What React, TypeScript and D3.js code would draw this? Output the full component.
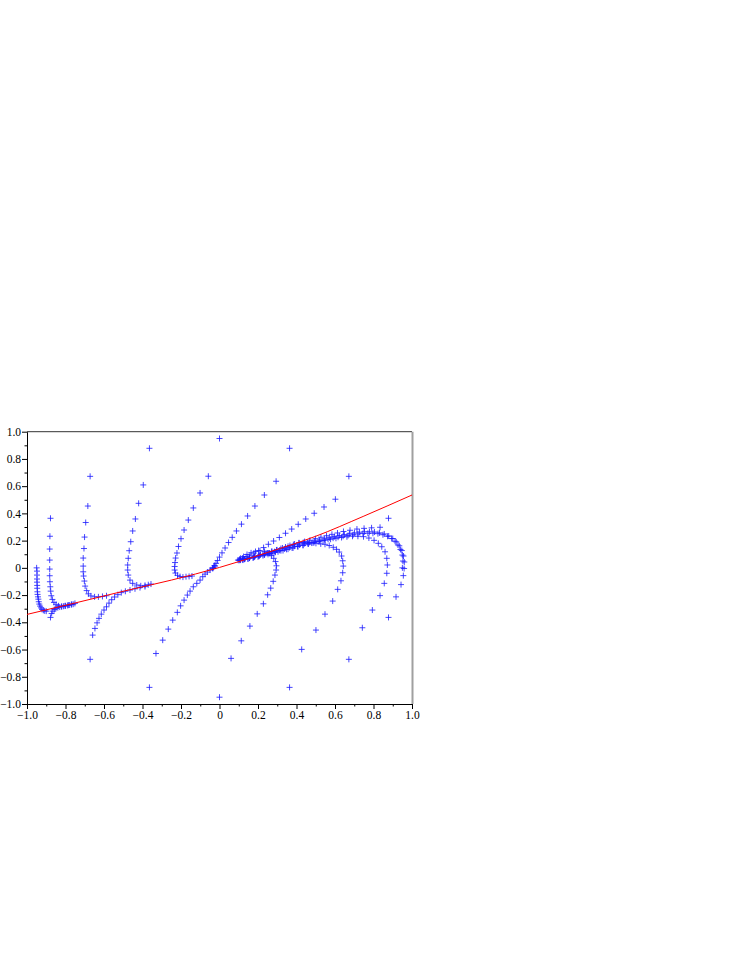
import * as React from 'react'
import * as d3 from 'd3'

type Pt = [number, number]

// one list per trajectory, named after the compass point it starts from (circle r = 0.95)
const trajN: Pt[] = [
    [0, 0.95], [-0.058, 0.673], [-0.101, 0.55], [-0.136, 0.44], [-0.162, 0.351], [-0.184, 0.278],
    [-0.2, 0.214], [-0.213, 0.157], [-0.221, 0.109], [-0.228, 0.072], [-0.231, 0.039], [-0.233, 0.01],
    [-0.233, -0.016], [-0.229, -0.038], [-0.218, -0.055], [-0.205, -0.064], [-0.19, -0.068],
    [-0.174, -0.065], [-0.158, -0.063], [-0.143, -0.06],
]
const trajNNW: Pt[] = [
    [-0.364, 0.878], [-0.396, 0.609], [-0.42, 0.474], [-0.437, 0.359], [-0.451, 0.271], [-0.461, 0.192],
    [-0.469, 0.126], [-0.474, 0.07], [-0.477, 0.021], [-0.477, -0.016], [-0.474, -0.053], [-0.465, -0.09],
    [-0.451, -0.114], [-0.43, -0.126], [-0.409, -0.132], [-0.387, -0.129], [-0.37, -0.124], [-0.356, -0.119],
]
const trajNW: Pt[] = [
    [-0.672, 0.672], [-0.684, 0.454], [-0.695, 0.333], [-0.701, 0.226], [-0.704, 0.142], [-0.708, 0.072],
    [-0.708, 0.013], [-0.708, -0.029], [-0.706, -0.06], [-0.702, -0.097], [-0.698, -0.134], [-0.69, -0.167],
    [-0.681, -0.191], [-0.668, -0.206], [-0.649, -0.213], [-0.629, -0.213], [-0.608, -0.21], [-0.587, -0.205],
]
const trajWNW: Pt[] = [
    [-0.878, 0.364], [-0.881, 0.232], [-0.882, 0.138], [-0.882, 0.057], [-0.882, -0.009], [-0.882, -0.058],
    [-0.881, -0.102], [-0.879, -0.139], [-0.877, -0.171], [-0.874, -0.205], [-0.868, -0.232], [-0.86, -0.254],
    [-0.849, -0.268], [-0.836, -0.279], [-0.82, -0.283], [-0.803, -0.279], [-0.785, -0.274], [-0.768, -0.268],
    [-0.751, -0.261],
]
const trajW: Pt[] = [
    [-0.95, 0], [-0.948, -0.024], [-0.948, -0.053], [-0.948, -0.082], [-0.948, -0.105], [-0.947, -0.129],
    [-0.947, -0.15], [-0.946, -0.176], [-0.945, -0.195], [-0.943, -0.213], [-0.941, -0.23], [-0.939, -0.249],
    [-0.936, -0.266], [-0.932, -0.281], [-0.927, -0.294], [-0.922, -0.305], [-0.915, -0.312], [-0.908, -0.316],
    [-0.9, -0.318],
]
const trajWSW: Pt[] = [
    [-0.878, -0.364], [-0.872, -0.335], [-0.866, -0.318], [-0.858, -0.306], [-0.85, -0.298], [-0.84, -0.292],
    [-0.83, -0.288], [-0.82, -0.285], [-0.81, -0.282], [-0.8, -0.279], [-0.79, -0.276], [-0.78, -0.273],
    [-0.77, -0.27], [-0.76, -0.267],
]
const trajSW: Pt[] = [
    [-0.672, -0.672], [-0.659, -0.494], [-0.647, -0.445], [-0.636, -0.404], [-0.626, -0.371], [-0.614, -0.34],
    [-0.6, -0.31], [-0.587, -0.286], [-0.574, -0.259], [-0.56, -0.234], [-0.545, -0.214], [-0.528, -0.197],
    [-0.51, -0.182], [-0.489, -0.172], [-0.465, -0.163], [-0.439, -0.154], [-0.413, -0.145], [-0.387, -0.138],
]
const trajSSW: Pt[] = [
    [-0.364, -0.878], [-0.33, -0.629], [-0.295, -0.531], [-0.266, -0.45], [-0.243, -0.384], [-0.219, -0.327],
    [-0.202, -0.279], [-0.184, -0.237], [-0.167, -0.2], [-0.153, -0.171], [-0.136, -0.139], [-0.118, -0.114],
    [-0.101, -0.09], [-0.087, -0.065], [-0.075, -0.046], [-0.063, -0.031], [-0.049, -0.016], [-0.035, -0.001],
    [-0.023, 0.013],
]
const trajS: Pt[] = [
    [0, -0.95], [0.06, -0.665], [0.113, -0.536], [0.158, -0.428], [0.196, -0.338], [0.228, -0.264],
    [0.25, -0.198], [0.266, -0.149], [0.279, -0.099], [0.288, -0.053], [0.294, -0.016], [0.296, 0.015],
    [0.291, 0.046], [0.282, 0.07], [0.27, 0.09], [0.254, 0.109], [0.234, 0.121], [0.21, 0.125],
    [0.187, 0.12], [0.164, 0.11], [0.143, 0.098], [0.125, 0.083], [0.109, 0.07], [0.096, 0.057],
]
const trajSSE: Pt[] = [
    [0.364, -0.878], [0.427, -0.599], [0.501, -0.457], [0.548, -0.34], [0.588, -0.244], [0.614, -0.158],
    [0.631, -0.095], [0.64, -0.036], [0.643, 0.013], [0.64, 0.052], [0.634, 0.087], [0.622, 0.116],
    [0.608, 0.136], [0.591, 0.151], [0.57, 0.164], [0.548, 0.173], [0.526, 0.176], [0.501, 0.18],
    [0.479, 0.182], [0.456, 0.185], [0.435, 0.186], [0.413, 0.184], [0.39, 0.175], [0.366, 0.164],
    [0.343, 0.153], [0.319, 0.142], [0.296, 0.131], [0.273, 0.12], [0.249, 0.109], [0.226, 0.099],
    [0.203, 0.09], [0.179, 0.081], [0.156, 0.072], [0.132, 0.065], [0.109, 0.057],
]
const trajSE: Pt[] = [
    [0.672, -0.672], [0.742, -0.44], [0.794, -0.31], [0.834, -0.204], [0.856, -0.114], [0.869, -0.04],
    [0.872, 0.021], [0.869, 0.07], [0.86, 0.118], [0.843, 0.155], [0.825, 0.18], [0.803, 0.202],
    [0.776, 0.219], [0.748, 0.229], [0.719, 0.232], [0.691, 0.232], [0.662, 0.228], [0.634, 0.223],
    [0.605, 0.217], [0.577, 0.21], [0.548, 0.203], [0.519, 0.195], [0.491, 0.186], [0.462, 0.176],
    [0.434, 0.167], [0.405, 0.157], [0.377, 0.146], [0.348, 0.136], [0.319, 0.126], [0.291, 0.115],
    [0.262, 0.105], [0.234, 0.095], [0.205, 0.085], [0.177, 0.076], [0.148, 0.068], [0.119, 0.06],
]
const trajESE: Pt[] = [
    [0.878, -0.364], [0.917, -0.213], [0.943, -0.123], [0.955, -0.057], [0.959, -0.005], [0.96, 0.043],
    [0.956, 0.087], [0.947, 0.127], [0.934, 0.162], [0.918, 0.191], [0.9, 0.215], [0.879, 0.234],
    [0.856, 0.249], [0.831, 0.257], [0.805, 0.263], [0.779, 0.265], [0.753, 0.265], [0.727, 0.262],
    [0.701, 0.257], [0.675, 0.251], [0.649, 0.244], [0.623, 0.237], [0.597, 0.229], [0.571, 0.221],
    [0.545, 0.213], [0.519, 0.204], [0.494, 0.196], [0.468, 0.187], [0.442, 0.178], [0.416, 0.168],
    [0.39, 0.159], [0.364, 0.149], [0.338, 0.139], [0.312, 0.129], [0.286, 0.119], [0.26, 0.109],
    [0.234, 0.099], [0.208, 0.09], [0.182, 0.081], [0.156, 0.072], [0.13, 0.064], [0.106, 0.057],
]
const trajE: Pt[] = [
    [0.95, 0], [0.953, 0.05], [0.95, 0.094], [0.94, 0.135], [0.927, 0.168], [0.912, 0.196],
    [0.894, 0.215], [0.873, 0.232], [0.849, 0.243], [0.823, 0.251], [0.797, 0.254], [0.771, 0.254],
    [0.745, 0.252], [0.719, 0.249], [0.694, 0.243], [0.668, 0.238], [0.642, 0.232], [0.616, 0.225],
    [0.59, 0.218], [0.564, 0.21], [0.538, 0.201], [0.512, 0.193], [0.486, 0.184], [0.46, 0.175],
    [0.434, 0.165], [0.408, 0.156], [0.382, 0.146], [0.356, 0.137], [0.33, 0.127], [0.304, 0.118],
    [0.278, 0.108], [0.252, 0.099], [0.226, 0.09], [0.2, 0.081], [0.174, 0.073], [0.148, 0.065],
    [0.122, 0.057],
]
const trajENE: Pt[] = [
    [0.878, 0.364], [0.834, 0.298], [0.79, 0.294], [0.751, 0.29], [0.714, 0.285], [0.678, 0.276],
    [0.644, 0.267], [0.613, 0.256], [0.584, 0.246], [0.556, 0.236], [0.527, 0.225], [0.499, 0.214],
    [0.47, 0.203], [0.442, 0.193], [0.413, 0.182], [0.384, 0.171], [0.356, 0.158], [0.327, 0.146],
    [0.299, 0.132], [0.27, 0.12], [0.242, 0.107], [0.213, 0.096], [0.184, 0.085], [0.156, 0.074],
    [0.127, 0.063], [0.101, 0.055],
]
const trajNE: Pt[] = [
    [0.672, 0.672], [0.602, 0.504], [0.543, 0.447], [0.492, 0.401], [0.448, 0.359], [0.409, 0.32],
    [0.375, 0.285], [0.343, 0.254], [0.311, 0.223], [0.281, 0.197], [0.254, 0.173], [0.229, 0.149],
    [0.203, 0.127], [0.179, 0.109], [0.158, 0.094], [0.138, 0.082], [0.119, 0.072], [0.104, 0.063],
]
const trajNNE: Pt[] = [
    [0.364, 0.878], [0.294, 0.636], [0.233, 0.535], [0.184, 0.454], [0.146, 0.381], [0.114, 0.321],
    [0.088, 0.271], [0.066, 0.224], [0.047, 0.186], [0.029, 0.146], [0.013, 0.11], [0, 0.079],
    [-0.01, 0.054], [-0.018, 0.033], [-0.026, 0.017], [-0.031, 0.004], [-0.035, -0.005],
]

const trajectories: Pt[][] = [
    trajN, trajNNW, trajNW, trajWNW, trajW, trajWSW, trajSW, trajSSW,
    trajS, trajSSE, trajSE, trajESE, trajE, trajENE, trajNE, trajNNE,
]

// red curve (slow manifold)
const curveX = [-1, -0.75, -0.5, -0.25, 0, 0.25, 0.5, 0.75, 1]
const curveY = [-0.342, -0.258, -0.172, -0.09, 0.003, 0.113, 0.232, 0.38, 0.535]

const majorTicks = [-1, -0.8, -0.6, -0.4, -0.2, 0, 0.2, 0.4, 0.6, 0.8, 1]
const minorTicks = [-0.9, -0.7, -0.5, -0.3, -0.1, 0.1, 0.3, 0.5, 0.7, 0.9]

const tickLabel = (d: number) => d === 0 ? '0' : d3.format('.1f')(d)

export default class App extends React.Component<{}, {}> {
    private node: SVGSVGElement | null = null
    private box = { left: 27, right: 412, top: 431.7, bottom: 704 }

    componentDidMount() {
        this.draw()
    }

    componentDidUpdate() {
        this.draw()
    }

    private draw(): void {
        if (!this.node)
            return

        const svg = d3.select(this.node)
        svg.selectAll('*').remove()
        const b = this.box

        const x = d3.scaleLinear().domain([-1, 1]).range([b.left, b.right])
        const y = d3.scaleLinear().domain([-1, 1]).range([b.bottom, b.top])

        // frame: dark top edge, grey right edge
        svg.append('line')
            .attr('x1', b.left).attr('x2', b.right)
            .attr('y1', b.top).attr('y2', b.top)
            .attr('stroke', '#333')
        svg.append('line')
            .attr('x1', b.right + 0.5).attr('x2', b.right + 0.5)
            .attr('y1', b.top).attr('y2', b.bottom)
            .attr('stroke', '#a0a0a0')
            .attr('stroke-width', 2)

        const font = '"Liberation Serif", "Times New Roman", serif'

        // minor ticks
        svg.append('g')
            .attr('transform', 'translate(' + b.left + ',0)')
            .call(d3.axisLeft(y).tickValues(minorTicks).tickSize(2.5).tickFormat(() => ''))
            .call(g => g.select('.domain').remove())
        svg.append('g')
            .attr('transform', 'translate(0,' + b.bottom + ')')
            .call(d3.axisBottom(x).tickValues(minorTicks).tickSize(2.5).tickFormat(() => ''))
            .call(g => g.select('.domain').remove())

        // y axis
        svg.append('g')
            .attr('transform', 'translate(' + b.left + ',0)')
            .call(d3.axisLeft(y).tickValues(majorTicks).tickSize(5).tickSizeOuter(0).tickPadding(1)
                .tickFormat(d => tickLabel(+d)))
            .attr('font-family', font)
            .attr('font-size', 11.5)

        // x axis
        svg.append('g')
            .attr('transform', 'translate(0,' + b.bottom + ')')
            .call(d3.axisBottom(x).tickValues(majorTicks).tickSize(5).tickSizeOuter(0).tickPadding(2)
                .tickFormat(d => tickLabel(+d)))
            .attr('font-family', font)
            .attr('font-size', 11.5)

        // trajectory points as '+' marks
        const points = trajectories.flat()
        svg.append('g')
            .selectAll('path')
            .data(points)
            .join('path')
            .attr('d', d => {
                const px = x(d[0])
                const py = y(d[1])
                return 'M' + (px - 3) + ',' + py + 'h6M' + px + ',' + (py - 3) + 'v6'
            })
            .attr('fill', 'none')
            .attr('stroke', '#1a1aff')
            .attr('stroke-opacity', 0.8)
            .attr('stroke-width', 1)

        // red curve
        const line = d3.line<number>()
            .x((d, i) => x(curveX[i]))
            .y(d => y(d))
            .curve(d3.curveMonotoneX)

        svg.append('path')
            .datum(curveY)
            .attr('fill', 'none')
            .attr('stroke', '#ff0000')
            .attr('stroke-width', 1)
            .attr('d', line)
    }

    render() {
        return (
            <svg
                width={747}
                height={967}
                style={{ position: 'absolute', left: 0, top: 0 }}
                ref={node => { this.node = node }} />
        )
    }
}
